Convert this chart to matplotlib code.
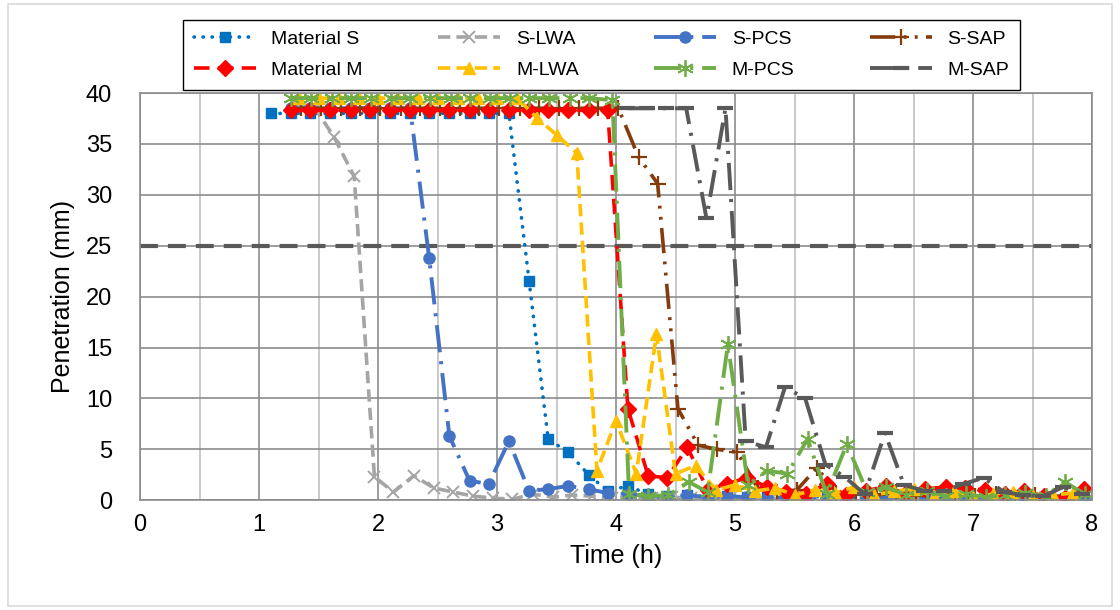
#!/usr/bin/env python3

'''
SCRIPT: plot.py
DESCRIPTION: Penetration vs time for the S and M mixes (setting time test)
USAGE: python plot.py
'''

# Imports
import matplotlib
matplotlib.use('Agg')
import matplotlib.pyplot as plt
from matplotlib.patches import Rectangle
from matplotlib.ticker import MultipleLocator

plt.rcParams['font.family'] = ['Liberation Sans', 'DejaVu Sans']

# Data (time in h, penetration in mm)
t_mat_s = [1.10, 1.27, 1.43, 1.60, 1.77, 1.93, 2.10, 2.27, 2.43, 2.60, 2.77, 2.93, 3.10,
           3.27, 3.43, 3.60, 3.77, 3.93, 4.10, 4.27, 4.43, 4.60, 4.77, 4.93, 5.10, 5.27,
           5.43, 5.60, 5.77, 5.93, 6.10, 6.27, 6.43, 6.60, 6.77, 6.93, 7.10, 7.27, 7.43,
           7.60, 7.77, 7.93]
p_mat_s = [38.0, 38.0, 38.0, 38.0, 38.0, 38.0, 38.0, 38.0, 38.0, 38.0, 38.0, 38.0, 38.0,
           21.5, 6.0, 4.7, 2.5, 0.9, 1.4, 0.6, 0.4, 0.5, 0.3, 0.4, 0.3, 0.3,
           0.2, 0.4, 0.3, 0.2, 0.3, 0.4, 0.2, 0.3, 0.2, 0.2, 0.3, 0.2, 0.2,
           0.3, 0.2, 0.2]

t_s_lwa = [1.30, 1.47, 1.63, 1.80, 1.97, 2.13, 2.30, 2.47, 2.63, 2.80, 2.97, 3.13, 3.30,
           3.47, 3.63, 3.80, 3.97, 4.13, 4.30, 4.47, 4.63, 4.80, 4.97, 5.13, 5.30, 5.47,
           5.63, 5.80, 5.97, 6.13, 6.30, 6.47, 6.63, 6.80, 6.97, 7.13, 7.30, 7.47, 7.63,
           7.80, 7.97]
p_s_lwa = [39.0, 38.5, 35.7, 31.8, 2.3, 0.8, 2.4, 1.2, 0.8, 0.4, 0.2, 0.1, 0.6,
           0.3, 0.5, 0.4, 0.2, 0.3, 0.2, 0.3, 0.2, 0.2, 0.3, 0.2, 0.1, 0.2,
           0.2, 0.1, 0.2, 0.2, 0.1, 0.2, 0.1, 0.1, 0.2, 0.1, 0.1, 0.2, 0.1,
           0.1, 0.1]

t_s_pcs = [1.27, 1.43, 1.60, 1.77, 1.93, 2.10, 2.27, 2.43, 2.60, 2.77, 2.93, 3.10, 3.27,
           3.43, 3.60, 3.77, 3.93, 4.10, 4.27, 4.43, 4.60, 4.77, 4.93, 5.10, 5.27, 5.43,
           5.60, 5.77, 5.93, 6.10, 6.27, 6.43, 6.60, 6.77, 6.93, 7.10, 7.27, 7.43, 7.60,
           7.77, 7.93]
p_s_pcs = [38.5, 38.5, 38.5, 38.5, 38.5, 38.5, 38.5, 23.8, 6.3, 1.9, 1.6, 5.8, 0.9,
           1.1, 1.4, 1.1, 0.7, 0.6, 0.4, 0.3, 0.5, 0.3, 0.4, 0.3, 0.2, 0.3,
           0.2, 0.3, 0.2, 0.2, 0.3, 0.2, 0.2, 0.1, 0.2, 0.2, 0.1, 0.2, 0.1,
           0.1, 0.1]

t_s_sap = [1.35, 1.52, 1.69, 1.85, 2.02, 2.19, 2.35, 2.52, 2.69, 2.85, 3.02, 3.19, 3.35,
           3.52, 3.69, 3.85, 4.02, 4.19, 4.35, 4.52, 4.69, 4.85, 5.02, 5.19, 5.35, 5.52,
           5.69, 5.85, 6.02, 6.19, 6.35, 6.52, 6.69, 6.85, 7.02, 7.19, 7.35, 7.52, 7.69,
           7.85]
p_s_sap = [38.5, 38.5, 38.5, 38.5, 38.5, 38.5, 38.5, 38.5, 38.5, 38.5, 38.5, 38.5, 38.5,
           38.5, 38.5, 38.5, 38.5, 33.7, 31.1, 9.0, 5.4, 5.0, 4.7, 1.2, 0.8, 1.0,
           3.2, 0.7, 0.6, 0.5, 0.8, 0.4, 0.6, 0.5, 0.4, 0.6, 0.3, 0.5, 0.4,
           0.4]

t_mat_m = [1.27, 1.43, 1.60, 1.77, 1.93, 2.10, 2.27, 2.43, 2.60, 2.77, 2.93, 3.10, 3.27,
           3.43, 3.60, 3.77, 3.93, 4.10, 4.27, 4.43, 4.60, 4.77, 4.93, 5.10, 5.27, 5.43,
           5.60, 5.77, 5.93, 6.10, 6.27, 6.43, 6.60, 6.77, 6.93, 7.10, 7.27, 7.43, 7.60,
           7.77, 7.93]
p_mat_m = [38.3, 38.3, 38.3, 38.3, 38.3, 38.3, 38.3, 38.3, 38.3, 38.3, 38.3, 38.3, 38.3,
           38.3, 38.3, 38.3, 38.3, 9.0, 2.4, 2.2, 5.2, 1.0, 1.6, 2.2, 1.3, 0.8,
           0.6, 1.6, 0.5, 0.9, 1.4, 0.6, 1.1, 1.3, 1.2, 1.0, 0.6, 0.9, 0.4,
           0.2, 1.1]

t_m_lwa = [1.34, 1.50, 1.67, 1.84, 2.00, 2.17, 2.34, 2.50, 2.67, 2.84, 3.00, 3.17, 3.34,
           3.50, 3.67, 3.84, 4.00, 4.17, 4.34, 4.50, 4.67, 4.84, 5.00, 5.17, 5.34, 5.50,
           5.67, 5.84, 6.00, 6.17, 6.34, 6.50, 6.67, 6.84, 7.00, 7.17, 7.34, 7.50, 7.67,
           7.84]
p_m_lwa = [39.5, 39.5, 39.5, 39.5, 39.5, 39.5, 39.5, 39.5, 39.5, 39.5, 39.5, 39.5, 37.5,
           35.9, 34.1, 2.9, 7.8, 2.6, 16.3, 2.6, 3.4, 1.0, 1.5, 0.9, 1.2, 0.5,
           1.0, 0.7, 1.3, 0.5, 0.9, 1.1, 0.4, 0.9, 0.3, 0.6, 0.8, 0.4, 0.5,
           0.7]

t_m_pcs = [1.27, 1.44, 1.61, 1.77, 1.94, 2.11, 2.27, 2.44, 2.61, 2.77, 2.94, 3.11, 3.27,
           3.44, 3.61, 3.77, 3.97, 4.11, 4.27, 4.44, 4.61, 4.77, 4.94, 5.11, 5.27, 5.44,
           5.61, 5.77, 5.94, 6.11, 6.27, 6.44, 6.61, 6.77, 6.94, 7.11, 7.27, 7.44, 7.61,
           7.77, 7.94]
p_m_pcs = [39.5, 39.5, 39.5, 39.5, 39.5, 39.5, 39.5, 39.5, 39.5, 39.5, 39.5, 39.5, 39.5,
           39.5, 39.5, 39.5, 39.3, 0.6, 0.4, 0.5, 1.8, 0.8, 15.3, 1.5, 2.9, 2.6,
           6.0, 0.6, 5.5, 0.8, 1.3, 0.5, 0.9, 0.4, 0.6, 0.3, 0.5, 0.7, 0.4,
           1.8, 0.6]

t_m_sap = [4.09, 4.26, 4.42, 4.59, 4.76, 4.92, 5.09, 5.26, 5.42, 5.59, 5.76, 5.92, 6.09,
           6.26, 6.42, 6.59, 6.76, 6.92, 7.09, 7.26, 7.42, 7.59, 7.76, 7.92]
p_m_sap = [38.5, 38.5, 38.5, 38.5, 27.7, 38.5, 5.8, 5.2, 11.1, 10.0, 3.5, 2.3, 0.6,
           6.6, 1.5, 0.9, 0.9, 1.6, 2.2, 0.8, 0.5, 0.4, 1.3, 0.6]

limit_25 = 25.0
x_ticks = [0, 1, 2, 3, 4, 5, 6, 7, 8]
y_ticks = [0, 5, 10, 15, 20, 25, 30, 35, 40]

# Styles
LONG_DASH_DOT = (0, (7, 2.3, 0.8, 2.3))
LONG_DASH_DOT_DOT = (0, (7, 2.3, 0.8, 2.3, 0.8, 2.3))

def draw_series(ax):
    """
    Plot all eight series, returns handles in legend (column) order
    """
    h = {}
    h['Material S'], = ax.plot(t_mat_s, p_mat_s, color='#0070C0', lw=2.6, ls=(0, (0.1, 2.4)),
                               dash_capstyle='round', marker='s', ms=7)
    h['S-LWA'], = ax.plot(t_s_lwa, p_s_lwa, color='#A5A5A5', lw=2.6, ls=(0, (3.4, 1.7)),
                          marker='x', ms=9, mew=1.4)
    h['S-PCS'], = ax.plot(t_s_pcs, p_s_pcs, color='#4472C4', lw=2.8, ls=LONG_DASH_DOT,
                          marker='o', ms=8)
    h['S-SAP'], = ax.plot(t_s_sap, p_s_sap, color='#843C0C', lw=2.6, ls=LONG_DASH_DOT_DOT,
                          marker='+', ms=12, mew=1.6)
    h['Material M'], = ax.plot(t_mat_m, p_mat_m, color='#FF0000', lw=2.6, ls=(0, (4.3, 2.3)),
                               marker='D', ms=8)
    h['M-LWA'], = ax.plot(t_m_lwa, p_m_lwa, color='#FFC000', lw=2.6, ls=(0, (3.4, 1.7)),
                          marker='^', ms=9)
    h['M-PCS'], = ax.plot(t_m_pcs, p_m_pcs, color='#70AD47', lw=2.8, ls=LONG_DASH_DOT,
                          marker=(6, 2, 0), ms=12, mew=1.3)
    h['M-SAP'], = ax.plot(t_m_sap, p_m_sap, color='#595959', lw=2.8, ls=LONG_DASH_DOT,
                          marker='_', ms=12, mew=3)
    order = ['Material S', 'Material M', 'S-LWA', 'M-LWA', 'S-PCS', 'M-PCS', 'S-SAP', 'M-SAP']
    return [h[k] for k in order], order

def main():
    fig = plt.figure(figsize=(11.2, 6.1), dpi=100)
    ax = fig.add_axes([0.125, 0.18, 0.85, 0.6675])

    # chart area border
    fig.patches.append(Rectangle((0.007, 0.006), 0.986, 0.988, transform=fig.transFigure,
                                 fill=False, edgecolor='#D9D9D9', lw=1.2))

    # 25 mm reference line
    ax.axhline(limit_25, color='#595959', lw=3, ls=(0, (4.3, 2.4)), zorder=1.8)

    handles, labels = draw_series(ax)

    ax.set_xlim(0, 8)
    ax.set_ylim(0, 40)
    ax.set_xticks(x_ticks)
    ax.set_yticks(y_ticks)
    ax.xaxis.set_minor_locator(MultipleLocator(0.5))
    ax.tick_params(which='both', length=0, labelsize=17)
    ax.tick_params(axis='x', pad=10)
    ax.tick_params(axis='y', pad=20)
    ax.grid(which='major', color='#8C8C8C', lw=1.2)
    ax.grid(which='minor', axis='x', color='#C0C0C0', lw=1.2)
    ax.set_axisbelow(True)
    for sp in ax.spines.values():
        sp.set_color('#8C8C8C')
        sp.set_linewidth(1.2)

    ax.set_xlabel('Time (h)', fontsize=18, labelpad=6)
    ax.set_ylabel('Penetration (mm)', fontsize=18, labelpad=8)

    fig.legend(handles, labels, ncol=4, loc='lower left', mode='expand',
               bbox_to_anchor=(183/1120, 1 - 90/610, (1020 - 183)/1120, 78/610),
               bbox_transform=fig.transFigure, fontsize=14, handlelength=3.2,
               handletextpad=0.8, labelspacing=0.7, borderpad=0.55, borderaxespad=0,
               fancybox=False, edgecolor='black', framealpha=1)

    plt.savefig('out.png', dpi=100)

if __name__ == "__main__":
    main()
